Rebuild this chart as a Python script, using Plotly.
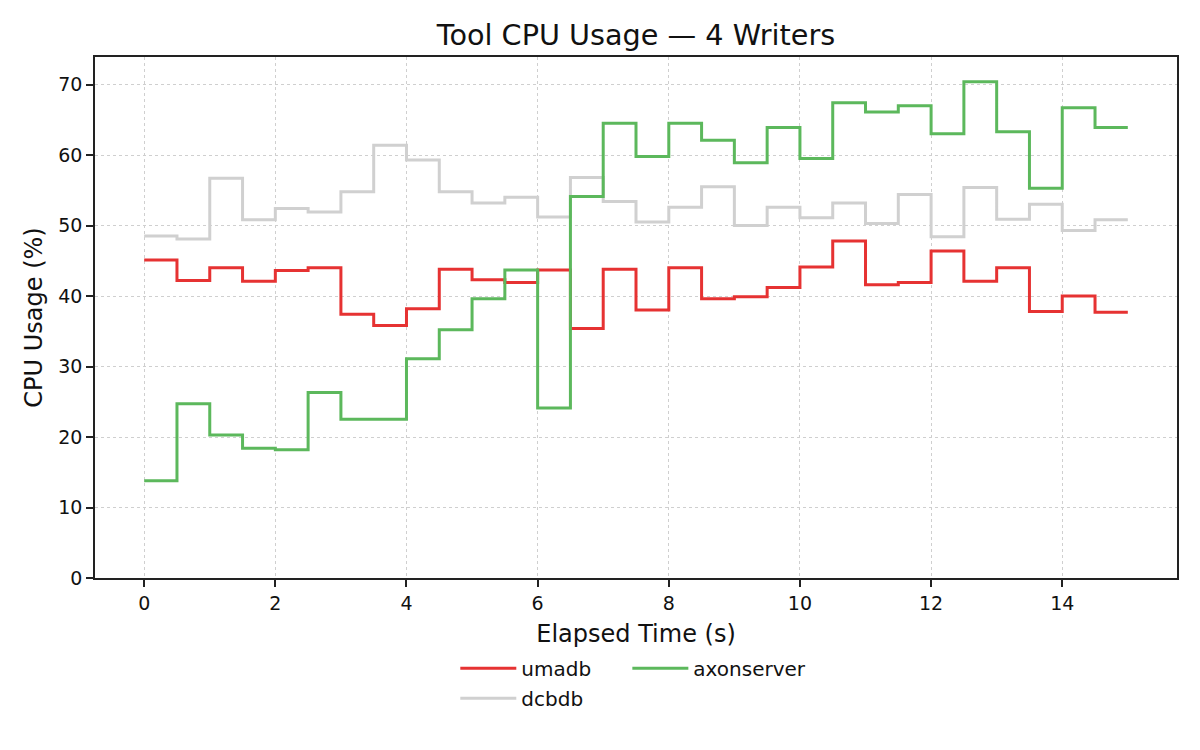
import plotly.graph_objects as go

# elapsed time in seconds, sampled every 0.5 s
time_s = [i * 0.5 for i in range(31)]

umadb = [45.1, 42.2, 44.0, 42.1, 43.6, 44.0, 37.4, 35.8, 38.2, 43.8,
         42.3, 41.9, 43.7, 35.4, 43.8, 38.0, 44.0, 39.6, 39.9, 41.2,
         44.1, 47.8, 41.6, 41.9, 46.4, 42.1, 44.0, 37.8, 40.0, 37.7, 37.7]
dcbdb = [48.5, 48.1, 56.7, 50.8, 52.4, 51.9, 54.8, 61.4, 59.3, 54.8,
         53.2, 54.0, 51.2, 56.8, 53.4, 50.5, 52.6, 55.5, 50.0, 52.6,
         51.1, 53.2, 50.3, 54.4, 48.4, 55.4, 50.9, 53.0, 49.3, 50.8, 50.8]
axonserver = [13.8, 24.7, 20.3, 18.4, 18.2, 26.3, 22.5, 22.5, 31.1, 35.2,
              39.6, 43.7, 24.1, 54.1, 64.5, 59.8, 64.5, 62.1, 58.9, 63.9,
              59.5, 67.4, 66.1, 67.0, 63.0, 70.4, 63.3, 55.3, 66.7, 63.9, 63.9]

series = [
    ('umadb', umadb, '#e63232', 'legend', 'a'),
    ('dcbdb', dcbdb, '#d0d0d0', 'legend', 'b'),
    ('axonserver', axonserver, '#5cb85c', 'legend2', 'c'),
]

FONT = 'DejaVu Sans'
# page body keeps an 8px margin, so the figure is 8px smaller each way
W, H = 1192, 742

fig = go.Figure()
for name, values, color, legend, group in series:
    fig.add_trace(go.Scatter(
        x=time_s,
        y=values,
        mode='lines',
        line=dict(color=color, width=3, shape='hv'),
        name=name,
        legend=legend,
        legendgroup=group,
    ))

axis_style = dict(
    showline=True,
    linecolor='#222222',
    linewidth=1.6,
    mirror=True,
    ticks='outside',
    ticklen=7,
    tickwidth=1.6,
    tickcolor='#222222',
    showgrid=True,
    gridcolor='#cfcfcf',
    griddash='dot',
    gridwidth=1.2,
    zeroline=False,
    automargin=False,
    tickfont=dict(family=FONT, size=19, color='#111111'),
)

fig.update_layout(
    width=W,
    height=H,
    plot_bgcolor='white',
    paper_bgcolor='white',
    margin=dict(l=87, r=23, t=49, b=172),
    font=dict(family=FONT, color='#111111'),
    title=dict(
        text='Tool CPU Usage — 4 Writers',
        xref='paper',
        x=0.5,
        xanchor='center',
        y=1 - 27 / H,
        yanchor='middle',
        font=dict(family=FONT, size=28.7, color='#111111'),
    ),
    xaxis=dict(
        axis_style,
        range=[-0.75, 15.75],
        tickvals=[0, 2, 4, 6, 8, 10, 12, 14],
        title=dict(text='Elapsed Time (s)', standoff=13,
                   font=dict(family=FONT, size=24)),
    ),
    yaxis=dict(
        axis_style,
        range=[0, 73.9],
        tickvals=[0, 10, 20, 30, 40, 50, 60, 70],
        title=dict(text='CPU Usage (%)', standoff=9,
                   font=dict(family=FONT, size=24)),
    ),
    legend=dict(
        x=0.333, y=-0.136, xanchor='left', yanchor='top',
        bgcolor='rgba(0,0,0,0)',
        font=dict(family=FONT, size=20),
        tracegroupgap=1,
        itemwidth=56,
    ),
    legend2=dict(
        x=0.492, y=-0.136, xanchor='left', yanchor='top',
        bgcolor='rgba(0,0,0,0)',
        font=dict(family=FONT, size=20),
        itemwidth=56,
    ),
)

fig.write_html('out.html')
